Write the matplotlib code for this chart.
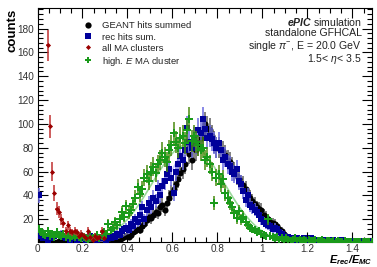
import numpy as np
import matplotlib
matplotlib.use("Agg")
import matplotlib.pyplot as plt
from matplotlib.lines import Line2D
from matplotlib.ticker import MultipleLocator

plt.rcParams['font.family'] = ['Liberation Sans', 'DejaVu Sans']
plt.rcParams['mathtext.fontset'] = 'custom'
plt.rcParams['mathtext.rm'] = 'Liberation Sans'
plt.rcParams['mathtext.it'] = 'Liberation Sans:italic'
plt.rcParams['mathtext.bf'] = 'Liberation Sans:bold:italic'

# ---- data (bin width 0.01, bins from 0 to 1.5) ----
bin_width = 0.01
x_centers = np.arange(150) * bin_width + bin_width / 2

geant_hits = [
    2, 3, 2, 1, 2, 1, 2, 1, 1, 2,
    1, 2, 1, 1, 2, 1, 1, 2, 1, 1,
    1, 2, 1, 1, 2, 1, 2, 1, 2, 2,
    2, 2, 3, 2, 3, 4, 3, 4, 5, 6,
    5, 7, 9, 10, 12, 11, 14, 16, 19, 22,
    21, 24, 26, 25, 30, 32, 28, 34, 38, 42,
    45, 50, 54, 59, 62, 66, 84, 75, 70, 80,
    78, 82, 88, 92, 100, 97, 95, 90, 85, 80,
    80, 78, 77, 74, 70, 68, 64, 60, 56, 54,
    50, 49, 45, 40, 38, 35, 33, 30, 29, 28,
    24, 22, 20, 18, 17, 16, 14, 12, 10, 8,
    6, 5, 4, 4, 3, 3, 3, 2, 2, 2,
    2, 2, 2, 1, 2, 2, 1, 1, 2, 1,
    1, 1, 2, 1, 1, 1, 1, 1, 1, 1,
    1, 1, 1, 1, 1, 1, 1, 1, 1, 1,
]

rec_hits = [
    40, 6, 4, 5, 3, 5, 4, 6, 8, 7,
    8, 5, 4, 6, 3, 5, 4, 3, 5, 4,
    5, 3, 4, 6, 5, 4, 3, 4, 5, 4,
    3, 5, 4, 6, 5, 8, 7, 10, 12, 13,
    11, 16, 14, 20, 18, 24, 30, 20, 28, 34,
    30, 38, 35, 46, 40, 48, 52, 58, 62, 55,
    42, 60, 66, 73, 70, 78, 97, 85, 80, 88,
    84, 95, 92, 104, 96, 88, 90, 87, 84, 80,
    84, 78, 70, 72, 66, 65, 60, 58, 62, 52,
    50, 44, 36, 40, 32, 30, 28, 26, 24, 20,
    18, 16, 15, 14, 12, 13, 12, 9, 8, 6,
    5, 5, 4, 4, 3, 4, 3, 3, 4, 3,
    3, 4, 3, 2, 3, 3, 2, 3, 2, 2,
    2, 3, 2, 2, 2, 3, 2, 2, 2, 2,
    2, 1, 2, 1, 2, 1, 1, 2, 1, 1,
]

# all MA clusters: visible part at low E (first 30 bins), 0 = empty bin
all_ma = [
    0, 0, 0, 0, 166, 98, 60, 42, 29, 26,
    20, 17, 10, 15, 10, 9, 10, 9, 6, 8,
    6, 4, 10, 5, 3, 6, 4, 5, 10, 4,
]

high_e_ma = [
    12, 9, 8, 7, 10, 6, 8, 5, 9, 7,
    6, 8, 5, 7, 4, 6, 5, 7, 5, 4,
    5, 4, 3, 6, 4, 5, 7, 4, 6, 9,
    8, 16, 11, 13, 18, 15, 20, 26, 22, 31,
    25, 28, 33, 38, 47, 41, 45, 55, 58, 52,
    60, 64, 59, 66, 70, 76, 72, 68, 78, 82,
    92, 85, 80, 88, 90, 84, 95, 104, 86, 90,
    85, 82, 78, 80, 70, 72, 66, 60, 34, 55,
    58, 50, 54, 42, 38, 34, 30, 25, 21, 27,
    20, 22, 18, 15, 13, 12, 11, 9, 10, 8,
    7, 6, 20, 6, 5, 4, 5, 3, 4, 3,
    4, 3, 2, 3, 4, 2, 3, 2, 3, 2,
    3, 2, 2, 3, 2, 2, 3, 1, 2, 2,
    1, 2, 1, 2, 1, 1, 2, 1, 1, 1,
    1, 1, 1, 1, 1, 1, 1, 1, 1, 1,
]

# Gaussian fit parameters (amplitude, mean, sigma)
fit_high_e = (83.0, 0.67, 0.16)
fit_rec = (90.0, 0.73, 0.15)
fit_range = (0.2, 1.1)

labels = ["GEANT hits summed", "rec hits sum.", "all MA clusters", "high. $E$ MA cluster"]

# ---- figure ----
W, H = 377, 267
fig = plt.figure(figsize=(W / 100, H / 100), dpi=100)
ax = fig.add_axes([37.5 / W, 1 - 241.7 / H, 334.5 / W, 233.4 / H])

black = "#000000"
blue = "#00009a"
red = "#9a0000"
green = "#1a9a1a"


def draw(values, color, ecolor, marker, ms, z):
    v = np.asarray(values, dtype=float)
    xc = x_centers[:len(v)]
    m = v > 0
    ax.errorbar(xc[m], v[m], yerr=np.sqrt(v[m]), xerr=bin_width / 2,
                fmt=marker, color=color, ecolor=ecolor, ms=ms, mew=0,
                elinewidth=1.1, capsize=0, zorder=z)


# fit curves
xf = np.linspace(fit_range[0], fit_range[1], 300)
for (a, mu, s), c, al in [(fit_rec, "#a0a0ff", 0.6), (fit_high_e, "#80d080", 0.8)]:
    ax.plot(xf, a * np.exp(-0.5 * ((xf - mu) / s) ** 2), color=c, lw=1.2, zorder=2.5, alpha=al)

draw(geant_hits, black, "#606060", "o", 4.4, 2)
draw(rec_hits, blue, "#6a6ae0", "s", 4.8, 3)
draw(high_e_ma, green, "#4a8a10", "P", 5.2, 4)
draw(all_ma, red, "#c03030", "D", 2.6, 5)

ax.set_xlim(0, 1.487)
ax.set_ylim(1.2, 197)

ax.xaxis.set_major_locator(MultipleLocator(0.2))
ax.xaxis.set_minor_locator(MultipleLocator(0.05))
ax.yaxis.set_major_locator(MultipleLocator(20))
ax.yaxis.set_minor_locator(MultipleLocator(4))
ax.set_yticks([20, 40, 60, 80, 100, 120, 140, 160, 180])
ax.set_xticks([0, 0.2, 0.4, 0.6, 0.8, 1.0, 1.2, 1.4])
ax.set_xticklabels(["0", "0.2", "0.4", "0.6", "0.8", "1", "1.2", "1.4"])
ax.tick_params(which="both", direction="in", top=True, right=True, labelsize=7.2,
               colors="black", width=0.8)
ax.tick_params(which="major", length=7)
ax.tick_params(axis="y", which="major", pad=2.5)
ax.tick_params(axis="x", which="major", pad=1.5)
ax.tick_params(which="minor", length=3.5)
ax.tick_params(axis="x", labelcolor="#333333")
ax.tick_params(axis="y", labelcolor="#333333")
for sp in ax.spines.values():
    sp.set_linewidth(0.8)

ax.text(-0.075, 1.0, "counts", transform=ax.transAxes, rotation=90, ha="center", va="top",
        fontsize=9.5, fontweight="bold")
ax.text(1.0, (241.7 - 253.5) / 233.4, r"$\mathbf{E_{rec}/E_{MC}}$", transform=ax.transAxes,
        ha="right", va="top", fontsize=7.8)

# annotation block (top right)
tx = (361.7 - 37.5) / 334.5
lines = [r"$\mathbf{ePIC}$ simulation", "standalone GFHCAL",
         r"single $\pi^{-}$, E = 20.0 GeV", r"1.5< $\eta$< 3.5"]
ys = [21.7, 33.3, 45.7, 59.3]
for t, y in zip(lines, ys):
    ax.text(tx, (241.7 - y) / 233.4, t, transform=ax.transAxes, ha="right", va="center",
            fontsize=7.6, color="#222222")

handles = [
    Line2D([], [], ls="none", marker="o", color=black, ms=4.5, mew=0),
    Line2D([], [], ls="none", marker="s", color=blue, ms=4.5, mew=0),
    Line2D([], [], ls="none", marker="D", color=red, ms=2.6, mew=0),
    Line2D([], [], ls="none", marker="P", color=green, ms=5.0, mew=0),
]
ax.legend(handles, labels, loc="upper left", frameon=False, fontsize=6.8,
          bbox_to_anchor=((83 - 37.5) / 334.5, (241.7 - 21.5) / 233.4),
          borderpad=0, borderaxespad=0, handlelength=1.0, handletextpad=1.0,
          labelspacing=0.22, labelcolor="#222222")

fig.savefig("out.png", dpi=100)
